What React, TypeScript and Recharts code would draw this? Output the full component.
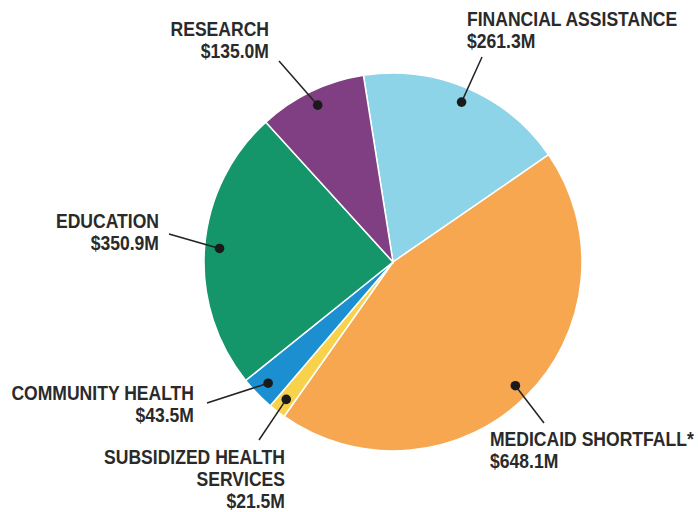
import { PieChart, Pie, Cell } from 'recharts';

const categories = [
  'FINANCIAL ASSISTANCE',
  'MEDICAID SHORTFALL*',
  'SUBSIDIZED HEALTH SERVICES',
  'COMMUNITY HEALTH',
  'EDUCATION',
  'RESEARCH',
];
const amounts = [261.3, 648.1, 21.5, 43.5, 350.9, 135.0];
const valueLabels = ['$261.3M', '$648.1M', '$21.5M', '$43.5M', '$350.9M', '$135.0M'];
const colors = ['#8dd4e8', '#f6a750', '#f9d24c', '#1b8fd0', '#14966a', '#7f3f82'];

// label text lines per slice (the name wraps differently per label)
const labelLines = [
  ['FINANCIAL ASSISTANCE'],
  ['MEDICAID SHORTFALL*'],
  ['SUBSIDIZED HEALTH', 'SERVICES'],
  ['COMMUNITY HEALTH'],
  ['EDUCATION'],
  ['RESEARCH'],
];

// where each callout text sits and where its leader line ends
const labelLayout = [
  { x: 467, y: 26.5, anchor: 'start', lx: 482, ly: 57 },
  { x: 490, y: 446, anchor: 'start', lx: 544, ly: 423 },
  { x: 285, y: 464.5, anchor: 'end', lx: 259, ly: 440 },
  { x: 194, y: 400, anchor: 'end', lx: 207, ly: 403 },
  { x: 159, y: 228.5, anchor: 'end', lx: 169, ly: 234 },
  { x: 269, y: 36.5, anchor: 'end', lx: 279, ly: 61 },
];

const data = categories.map((name, i) => ({ name, value: amounts[i] }));

const RADIAN = Math.PI / 180;
const LINE_H = 21.8;
const SQUEEZE = 0.9;

const renderLabel = (props: any) => {
  const { cx, cy, midAngle, index } = props;
  const r = 174;
  const dx = cx + r * Math.cos(-midAngle * RADIAN);
  const dy = cy + r * Math.sin(-midAngle * RADIAN);
  const lay = labelLayout[index];
  const lines = [...labelLines[index], valueLabels[index]];
  return (
    <g>
      <line x1={dx} y1={dy} x2={lay.lx} y2={lay.ly} stroke="#222" strokeWidth={1.5} />
      <circle cx={dx} cy={dy} r={4.8} fill="#1a1a1a" />
      <g transform={`translate(${lay.x},0) scale(${SQUEEZE},1)`}>
        <text
          x={0}
          y={lay.y}
          textAnchor={lay.anchor}
          fill="#2a2a2a"
          fontFamily='"Liberation Sans", Arial, sans-serif'
          fontWeight="bold"
          fontSize={19.5}
        >
          {lines.map((t, k) => (
            <tspan key={k} x={0} y={lay.y + k * LINE_H}>
              {t}
            </tspan>
          ))}
        </text>
      </g>
    </g>
  );
};

export default function App() {
  return (
    <div style={{ position: 'fixed', left: 0, top: 0, width: 698, height: 512, background: '#fff' }}>
      <PieChart width={698} height={512} margin={{ top: 0, right: 0, bottom: 0, left: 0 }}>
        <Pie
          data={data}
          dataKey="value"
          nameKey="name"
          cx={393}
          cy={262}
          outerRadius={189}
          startAngle={99}
          endAngle={-261}
          stroke="#ffffff"
          strokeWidth={1.5}
          label={renderLabel}
          labelLine={false}
          isAnimationActive={false}
        >
          {data.map((d, i) => (
            <Cell key={d.name} fill={colors[i]} />
          ))}
        </Pie>
      </PieChart>
    </div>
  );
}
